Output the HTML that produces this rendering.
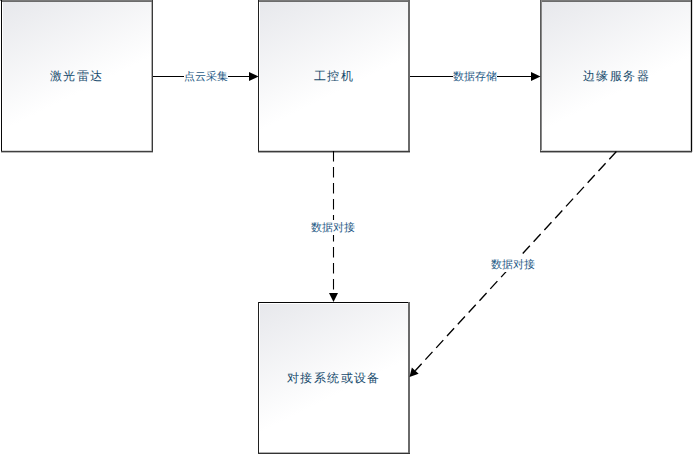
<!DOCTYPE html>
<html><head><meta charset="utf-8">
<style>
html,body{margin:0;padding:0;background:#fff;width:693px;height:454px;overflow:hidden;}
body{font-family:"Liberation Sans",sans-serif;position:relative;}
svg{position:absolute;left:0;top:0;}
.lbl{position:absolute;white-space:nowrap;line-height:1;}
.big{font-size:12px;font-weight:500;color:#164a6c;letter-spacing:1.4px;}
.sm{font-size:11px;color:#1f5a86;background:#fff;padding:2px 0;}
</style></head><body>
<svg width="693" height="454" viewBox="0 0 693 454" shape-rendering="crispEdges">
<defs>
<linearGradient id="g" x1="0" y1="0" x2="0.346" y2="0.698">
<stop offset="0" stop-color="#e7e8ec"/>
<stop offset="1" stop-color="#ffffff"/>
</linearGradient>
</defs>
<rect x="1" y="0" width="152" height="152" fill="#fff"/>
<rect x="3" y="2" width="148" height="148" fill="url(#g)"/>
<rect x="0" y="0" width="153" height="1" fill="#7a7a7a"/>
<rect x="1" y="1" width="152" height="1" fill="#6c6c6c"/>
<rect x="1" y="0" width="1" height="152" fill="#080808"/>
<rect x="151" y="2" width="1" height="149" fill="#b0b0b0"/>
<rect x="152" y="0" width="1" height="152" fill="#3a3a3a"/>
<rect x="2" y="150" width="149" height="1" fill="#d8d8d8"/>
<rect x="1" y="151" width="152" height="1" fill="#404040"/>
<rect x="1" y="152" width="152" height="1" fill="#b8b8b8"/>
<rect x="258" y="0" width="152" height="152" fill="#fff"/>
<rect x="260" y="2" width="148" height="148" fill="url(#g)"/>
<rect x="258" y="0" width="152" height="1" fill="#7a7a7a"/>
<rect x="258" y="1" width="152" height="1" fill="#6c6c6c"/>
<rect x="258" y="0" width="1" height="152" fill="#202020"/>
<rect x="408" y="0" width="1" height="152" fill="#6a6a6a"/>
<rect x="409" y="0" width="1" height="152" fill="#6a6a6a"/>
<rect x="259" y="150" width="149" height="1" fill="#d0d0d0"/>
<rect x="258" y="151" width="152" height="1" fill="#3c3c3c"/>
<rect x="258" y="152" width="152" height="1" fill="#a8a8a8"/>
<rect x="540" y="0" width="152" height="152" fill="#fff"/>
<rect x="542" y="2" width="148" height="148" fill="url(#g)"/>
<rect x="540" y="0" width="152" height="1" fill="#7a7a7a"/>
<rect x="540" y="1" width="152" height="1" fill="#6c6c6c"/>
<rect x="540" y="0" width="1" height="152" fill="#5a5a5a"/>
<rect x="541" y="0" width="1" height="152" fill="#888888"/>
<rect x="690" y="2" width="1" height="149" fill="#d0d0d0"/>
<rect x="691" y="0" width="1" height="152" fill="#050505"/>
<rect x="692" y="0" width="1" height="152" fill="#d8d8d8"/>
<rect x="541" y="150" width="150" height="1" fill="#d0d0d0"/>
<rect x="540" y="151" width="152" height="1" fill="#3c3c3c"/>
<rect x="540" y="152" width="152" height="1" fill="#a8a8a8"/>
<rect x="258" y="302" width="152" height="152" fill="#fff"/>
<rect x="260" y="304" width="148" height="148" fill="url(#g)"/>
<rect x="258" y="302" width="152" height="1" fill="#050505"/>
<rect x="258" y="302" width="1" height="152" fill="#202020"/>
<rect x="408" y="302" width="1" height="152" fill="#6a6a6a"/>
<rect x="409" y="302" width="1" height="152" fill="#6a6a6a"/>
<rect x="259" y="452" width="149" height="1" fill="#b0b0b0"/>
<rect x="258" y="453" width="152" height="1" fill="#333333"/>
<g stroke="#000" stroke-width="1.1" fill="none" shape-rendering="auto">
<line x1="153" y1="76.5" x2="250" y2="76.5"/>
<line x1="410" y1="76.5" x2="532" y2="76.5"/>
<line x1="333.5" y1="151" x2="333.5" y2="293" stroke-dasharray="10.5 5.5"/>
<line x1="616.4" y1="151.5" x2="415.2" y2="370.7" stroke-width="1.35" stroke-dasharray="10.5 5.5"/>
</g>
<g fill="#000" shape-rendering="auto">
<polygon points="249,72 258.5,76.5 249,81"/>
<polygon points="531,72 540.5,76.5 531,81"/>
<polygon points="329,293 333.5,302 338,293"/>
<polygon points="409.5,377 411.85,367.6 418.6,373.8"/>
</g>
</svg>
<div class="lbl big" style="left:50px;top:70px;">激光雷达</div>
<div class="lbl big" style="left:314px;top:70px;">工控机</div>
<div class="lbl big" style="left:583px;top:70px;">边缘服务器</div>
<div class="lbl big" style="left:287px;top:372px;">对接系统或设备</div>
<div class="lbl sm" style="left:184px;top:69px;">点云采集</div>
<div class="lbl sm" style="left:453px;top:69px;">数据存储</div>
<div class="lbl sm" style="left:311px;top:220px;">数据对接</div>
<div class="lbl sm" style="left:491px;top:257px;">数据对接</div>
</body></html>
